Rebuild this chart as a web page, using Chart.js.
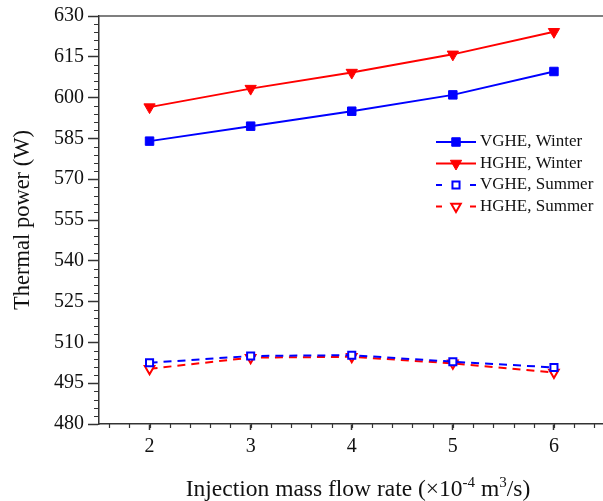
<!DOCTYPE html>
<html>
<head>
<meta charset="utf-8">
<script src="https://cdn.jsdelivr.net/npm/chart.js@4/dist/chart.umd.min.js"></script>
<style>
  html, body { margin: 0; padding: 0; background: #fff; overflow: hidden; }
  #wrap { position: relative; width: 612px; height: 501px; }
</style>
</head>
<body>
<div id="wrap"><canvas id="chart"></canvas></div>
<script>
const flowRates = [2, 3, 4, 5, 6];
const vgheWinter = [584.0, 589.5, 595.0, 601.0, 609.6];
const hgheWinter = [596.5, 603.3, 609.2, 615.9, 624.2];
const vgheSummer = [502.5, 505.0, 505.3, 502.9, 500.8];
const hgheSummer = [500.3, 504.4, 504.7, 502.3, 498.9];
const seriesNames = ['VGHE, Winter', 'HGHE, Winter', 'VGHE, Summer', 'HGHE, Summer'];
const xTicks = [2, 3, 4, 5, 6];
const yTicks = [480, 495, 510, 525, 540, 555, 570, 585, 600, 615, 630];

const SERIF = "'Liberation Serif', 'DejaVu Serif', serif";
const AXIS = '#333';
const TEXT = '#111';

const toPoints = (vals) => vals.map((v, i) => ({ x: flowRates[i], y: v }));

function series(label, vals, color, style, filled) {
  const tri = style === 'triangle';
  return {
    label,
    data: toPoints(vals),
    borderColor: color,
    backgroundColor: filled ? color : '#fff',
    borderWidth: 2,
    borderDash: filled ? [] : [8, 6],
    pointStyle: style,
    pointRotation: tri ? 180 : 0,
    pointRadius: filled ? (tri ? 6.5 : 6) : (tri ? 5.5 : 5),
    pointBorderWidth: filled ? 1 : 2,
    pointBorderColor: color,
    pointBackgroundColor: filled ? color : '#fff',
    tension: 0,
    fill: false
  };
}

// minor tick marks, plot frame and the x-axis title with superscripts
const axisExtras = {
  id: 'axisExtras',
  afterDraw(chart) {
    const { ctx, chartArea: a } = chart;
    const xs = chart.scales.x, ys = chart.scales.y;
    ctx.save();
    ctx.strokeStyle = AXIS;
    ctx.lineWidth = 1.2;
    ctx.beginPath();
    for (let v = 1.6; v < 6.5; v += 0.2) {
      const px = Math.round(xs.getPixelForValue(v)) + 0.5;
      ctx.moveTo(px, a.bottom);
      ctx.lineTo(px, a.bottom + 4);
    }
    for (let v = 483; v < 630; v += 3) {
      if (v % 15 === 0) continue;
      const py = Math.round(ys.getPixelForValue(v)) + 0.5;
      ctx.moveTo(a.left - 5, py);
      ctx.lineTo(a.left, py);
    }
    ctx.stroke();

    ctx.strokeStyle = '#555';
    ctx.lineWidth = 1.5;
    ctx.beginPath();
    ctx.moveTo(a.left, a.top);
    ctx.lineTo(a.right, a.top);
    ctx.lineTo(a.right, a.bottom);
    ctx.stroke();

    const parts = [
      { t: 'Injection mass flow rate (×10', sup: false },
      { t: '-4', sup: true },
      { t: ' m', sup: false },
      { t: '3', sup: true },
      { t: '/s)', sup: false }
    ];
    const big = '23.5px ' + SERIF, small = '15px ' + SERIF;
    let total = 0;
    parts.forEach(p => {
      ctx.font = p.sup ? small : big;
      p.w = ctx.measureText(p.t).width;
      total += p.w;
    });
    let x = 358 - total / 2;
    const base = 496;
    ctx.fillStyle = TEXT;
    ctx.textAlign = 'left';
    ctx.textBaseline = 'alphabetic';
    parts.forEach(p => {
      ctx.font = p.sup ? small : big;
      ctx.fillText(p.t, x, p.sup ? base - 9 : base);
      x += p.w;
    });
    ctx.restore();
  }
};

// legend: line sample with marker, drawn inside the plot
const seriesLegend = {
  id: 'seriesLegend',
  afterDraw(chart) {
    const { ctx } = chart;
    const x0 = 436, x1 = 476, rowY = [142, 163.5, 185, 206.5];
    ctx.save();
    chart.data.datasets.forEach((ds, i) => {
      const y = rowY[i];
      const cx = (x0 + x1) / 2;
      ctx.strokeStyle = ds.borderColor;
      ctx.lineWidth = 2;
      ctx.setLineDash(ds.borderDash.length ? [6, 28] : []);
      ctx.beginPath();
      ctx.moveTo(x0, y);
      ctx.lineTo(x1, y);
      ctx.stroke();
      ctx.setLineDash([]);
      ctx.fillStyle = ds.pointBackgroundColor;
      ctx.strokeStyle = ds.pointBorderColor;
      ctx.lineWidth = ds.pointBorderWidth;
      Chart.helpers.drawPoint(ctx, {
        pointStyle: ds.pointStyle,
        rotation: ds.pointRotation,
        radius: ds.pointRadius,
        borderWidth: ds.pointBorderWidth
      }, cx, y);
      ctx.fillStyle = TEXT;
      ctx.font = '17px ' + SERIF;
      ctx.textBaseline = 'middle';
      ctx.textAlign = 'left';
      ctx.fillText(ds.label, 480, y);
    });
    ctx.restore();
  }
};

new Chart(document.getElementById('chart'), {
  type: 'line',
  data: {
    datasets: [
      series(seriesNames[0], vgheWinter, '#0000ff', 'rect', true),
      series(seriesNames[1], hgheWinter, '#ff0000', 'triangle', true),
      series(seriesNames[2], vgheSummer, '#0000ff', 'rect', false),
      series(seriesNames[3], hgheSummer, '#ff0000', 'triangle', false)
    ]
  },
  options: {
    responsive: true,
    maintainAspectRatio: false,
    animation: false,
    layout: { padding: { top: 16, right: 6, left: 0, bottom: 0 } },
    plugins: {
      legend: { display: false },
      tooltip: { enabled: false }
    },
    scales: {
      x: {
        type: 'linear',
        min: 1.5,
        max: 6.5,
        afterBuildTicks: (s) => { s.ticks = xTicks.map(v => ({ value: v })); },
        afterFit: (s) => { s.height = 77; },
        grid: { drawOnChartArea: false, tickLength: 6, tickColor: AXIS, tickWidth: 1.5 },
        border: { color: AXIS, width: 1.5 },
        ticks: { color: TEXT, font: { family: SERIF, size: 20 }, padding: 5 }
      },
      y: {
        min: 480,
        max: 630,
        afterBuildTicks: (s) => { s.ticks = yTicks.map(v => ({ value: v })); },
        afterFit: (s) => { s.width = 99; },
        grid: { drawOnChartArea: false, tickLength: 11, tickColor: AXIS, tickWidth: 1.5 },
        border: { color: AXIS, width: 1.5 },
        ticks: { color: TEXT, font: { family: SERIF, size: 20 }, padding: 4 },
        title: {
          display: true,
          text: 'Thermal power (W)',
          color: TEXT,
          font: { family: SERIF, size: 22.5 },
          padding: { top: 10, bottom: 2 }
        }
      }
    }
  },
  plugins: [axisExtras, seriesLegend]
});
</script>
</body>
</html>
